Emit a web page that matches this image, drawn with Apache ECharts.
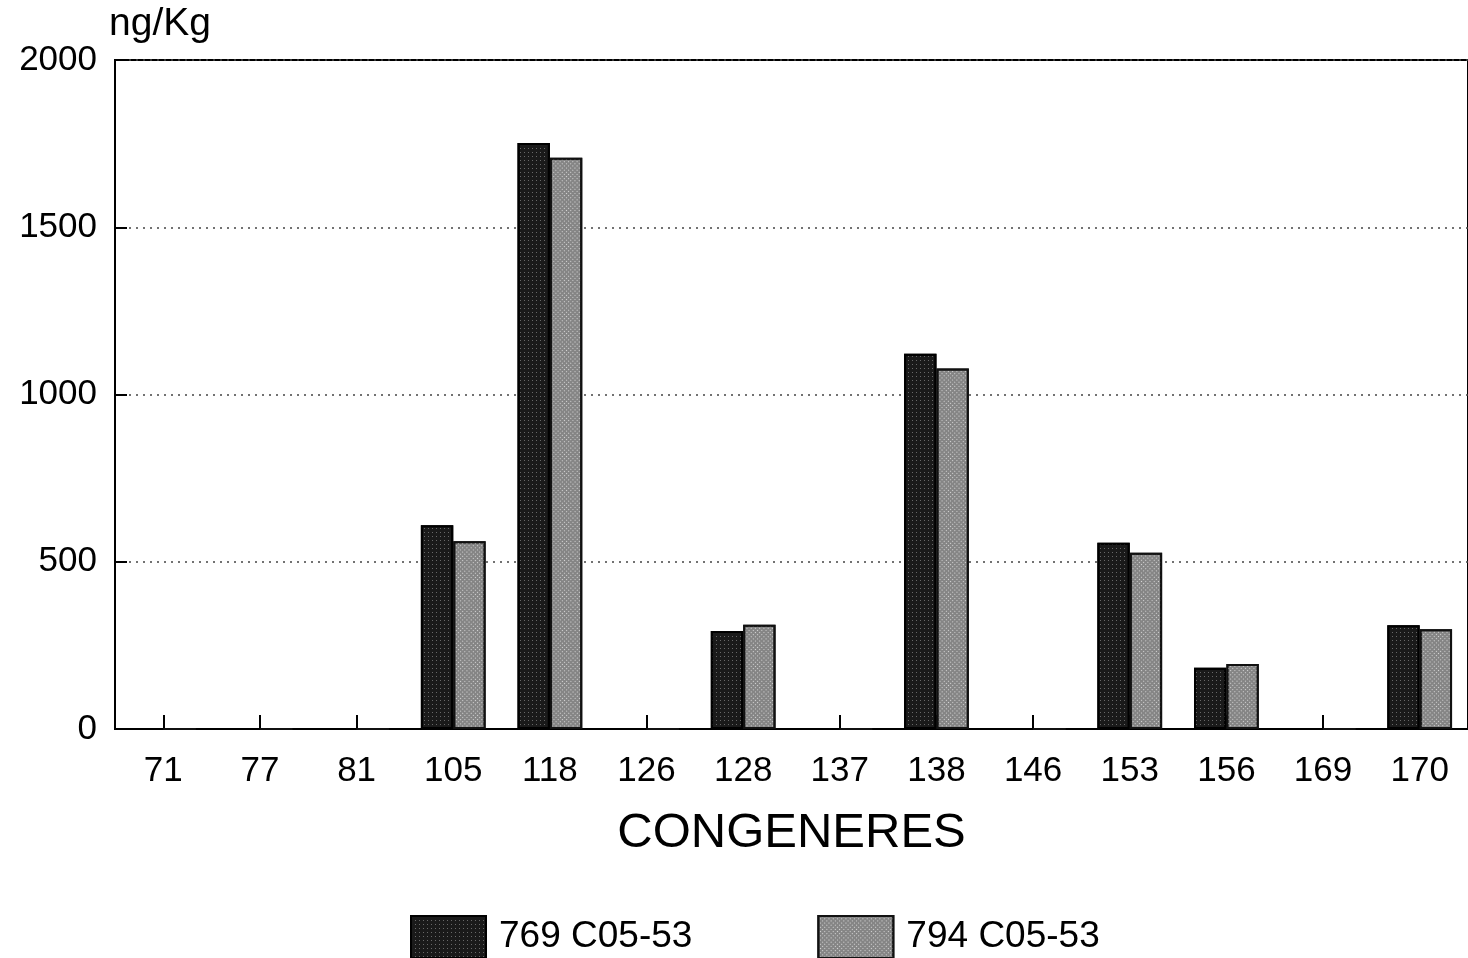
<!DOCTYPE html>
<html>
<head>
<meta charset="utf-8">
<script src="https://cdn.jsdelivr.net/npm/echarts@6/dist/echarts.min.js"></script>
<style>
html,body{margin:0;padding:0;background:#fff;}
#chart{width:1468px;height:958px;}
</style>
</head>
<body>
<div id="chart"></div>
<script>
const categories = ['71','77','81','105','118','126','128','137','138','146','153','156','169','170'];
const series769 = [0,0,0,609,1752,0,293,0,1122,0,557,183,0,310];
const series794 = [0,0,0,561,1708,0,312,0,1078,0,527,194,0,298];
const seriesNames = ['769 C05-53','794 C05-53'];
const yTicks = [0,500,1000,1500,2000];

const chart = echarts.init(document.getElementById('chart'), null, {renderer:'canvas'});
const font = '"Liberation Sans", Arial, Helvetica, sans-serif';
chart.setOption({
  animation:false,
  backgroundColor:'#fff',
  grid:{left:115, top:60, width:1366, bottom:229, show:true, borderColor:'#000', borderWidth:2, backgroundColor:'transparent'},
  legend:{
    left:405, top:910, itemWidth:75, itemHeight:42, itemGap:125,
    data:seriesNames,
    textStyle:{fontFamily:font, fontSize:37, color:'#000', padding:[12,0,0,8]},
    icon:'rect'
  },
  xAxis:{
    type:'category', data:categories,
    name:'CONGENERES', nameLocation:'middle', nameGap:80,
    nameTextStyle:{fontFamily:font, fontSize:49, color:'#000'},
    axisLine:{show:true, lineStyle:{color:'#000', width:2}},
    axisTick:{show:true, inside:true, alignWithLabel:true, length:14, lineStyle:{color:'#000', width:2}},
    axisLabel:{fontFamily:font, fontSize:35, color:'#000', margin:25},
    splitLine:{show:false}
  },
  yAxis:{
    type:'value', min:yTicks[0], max:yTicks[yTicks.length-1], interval:500,
    name:'ng/Kg', nameLocation:'end', nameGap:16,
    nameTextStyle:{fontFamily:font, fontSize:39, color:'#000', align:'left', padding:[0,0,0,-6]},
    axisLine:{show:true, lineStyle:{color:'#000', width:2}},
    axisTick:{show:true, inside:true, length:12, lineStyle:{color:'#000', width:2}},
    axisLabel:{fontFamily:font, fontSize:35, color:'#000', margin:18, formatter:function(v){return String(v);}},
    splitLine:{show:true, lineStyle:{color:'#444', width:1.5, type:[2,5]}}
  },
  series:[
    {
      name:seriesNames[0], type:'bar', data:series769,
      barGap:'0%', barCategoryGap:'33%',
      itemStyle:{color:'#1a1a1a', borderColor:'#000', borderWidth:2,
        decal:{symbol:'rect', symbolSize:1, dashArrayX:[1,3], dashArrayY:[1,3], color:'rgba(200,200,200,0.45)', rotation:0}}
    },
    {
      name:seriesNames[1], type:'bar', data:series794,
      itemStyle:{color:'#858585', borderColor:'#111', borderWidth:2,
        decal:{symbol:'rect', symbolSize:1, dashArrayX:[1,2], dashArrayY:[1,2], color:'rgba(240,240,240,0.75)', rotation:0.785}}
    }
  ]
});
</script>
</body>
</html>
